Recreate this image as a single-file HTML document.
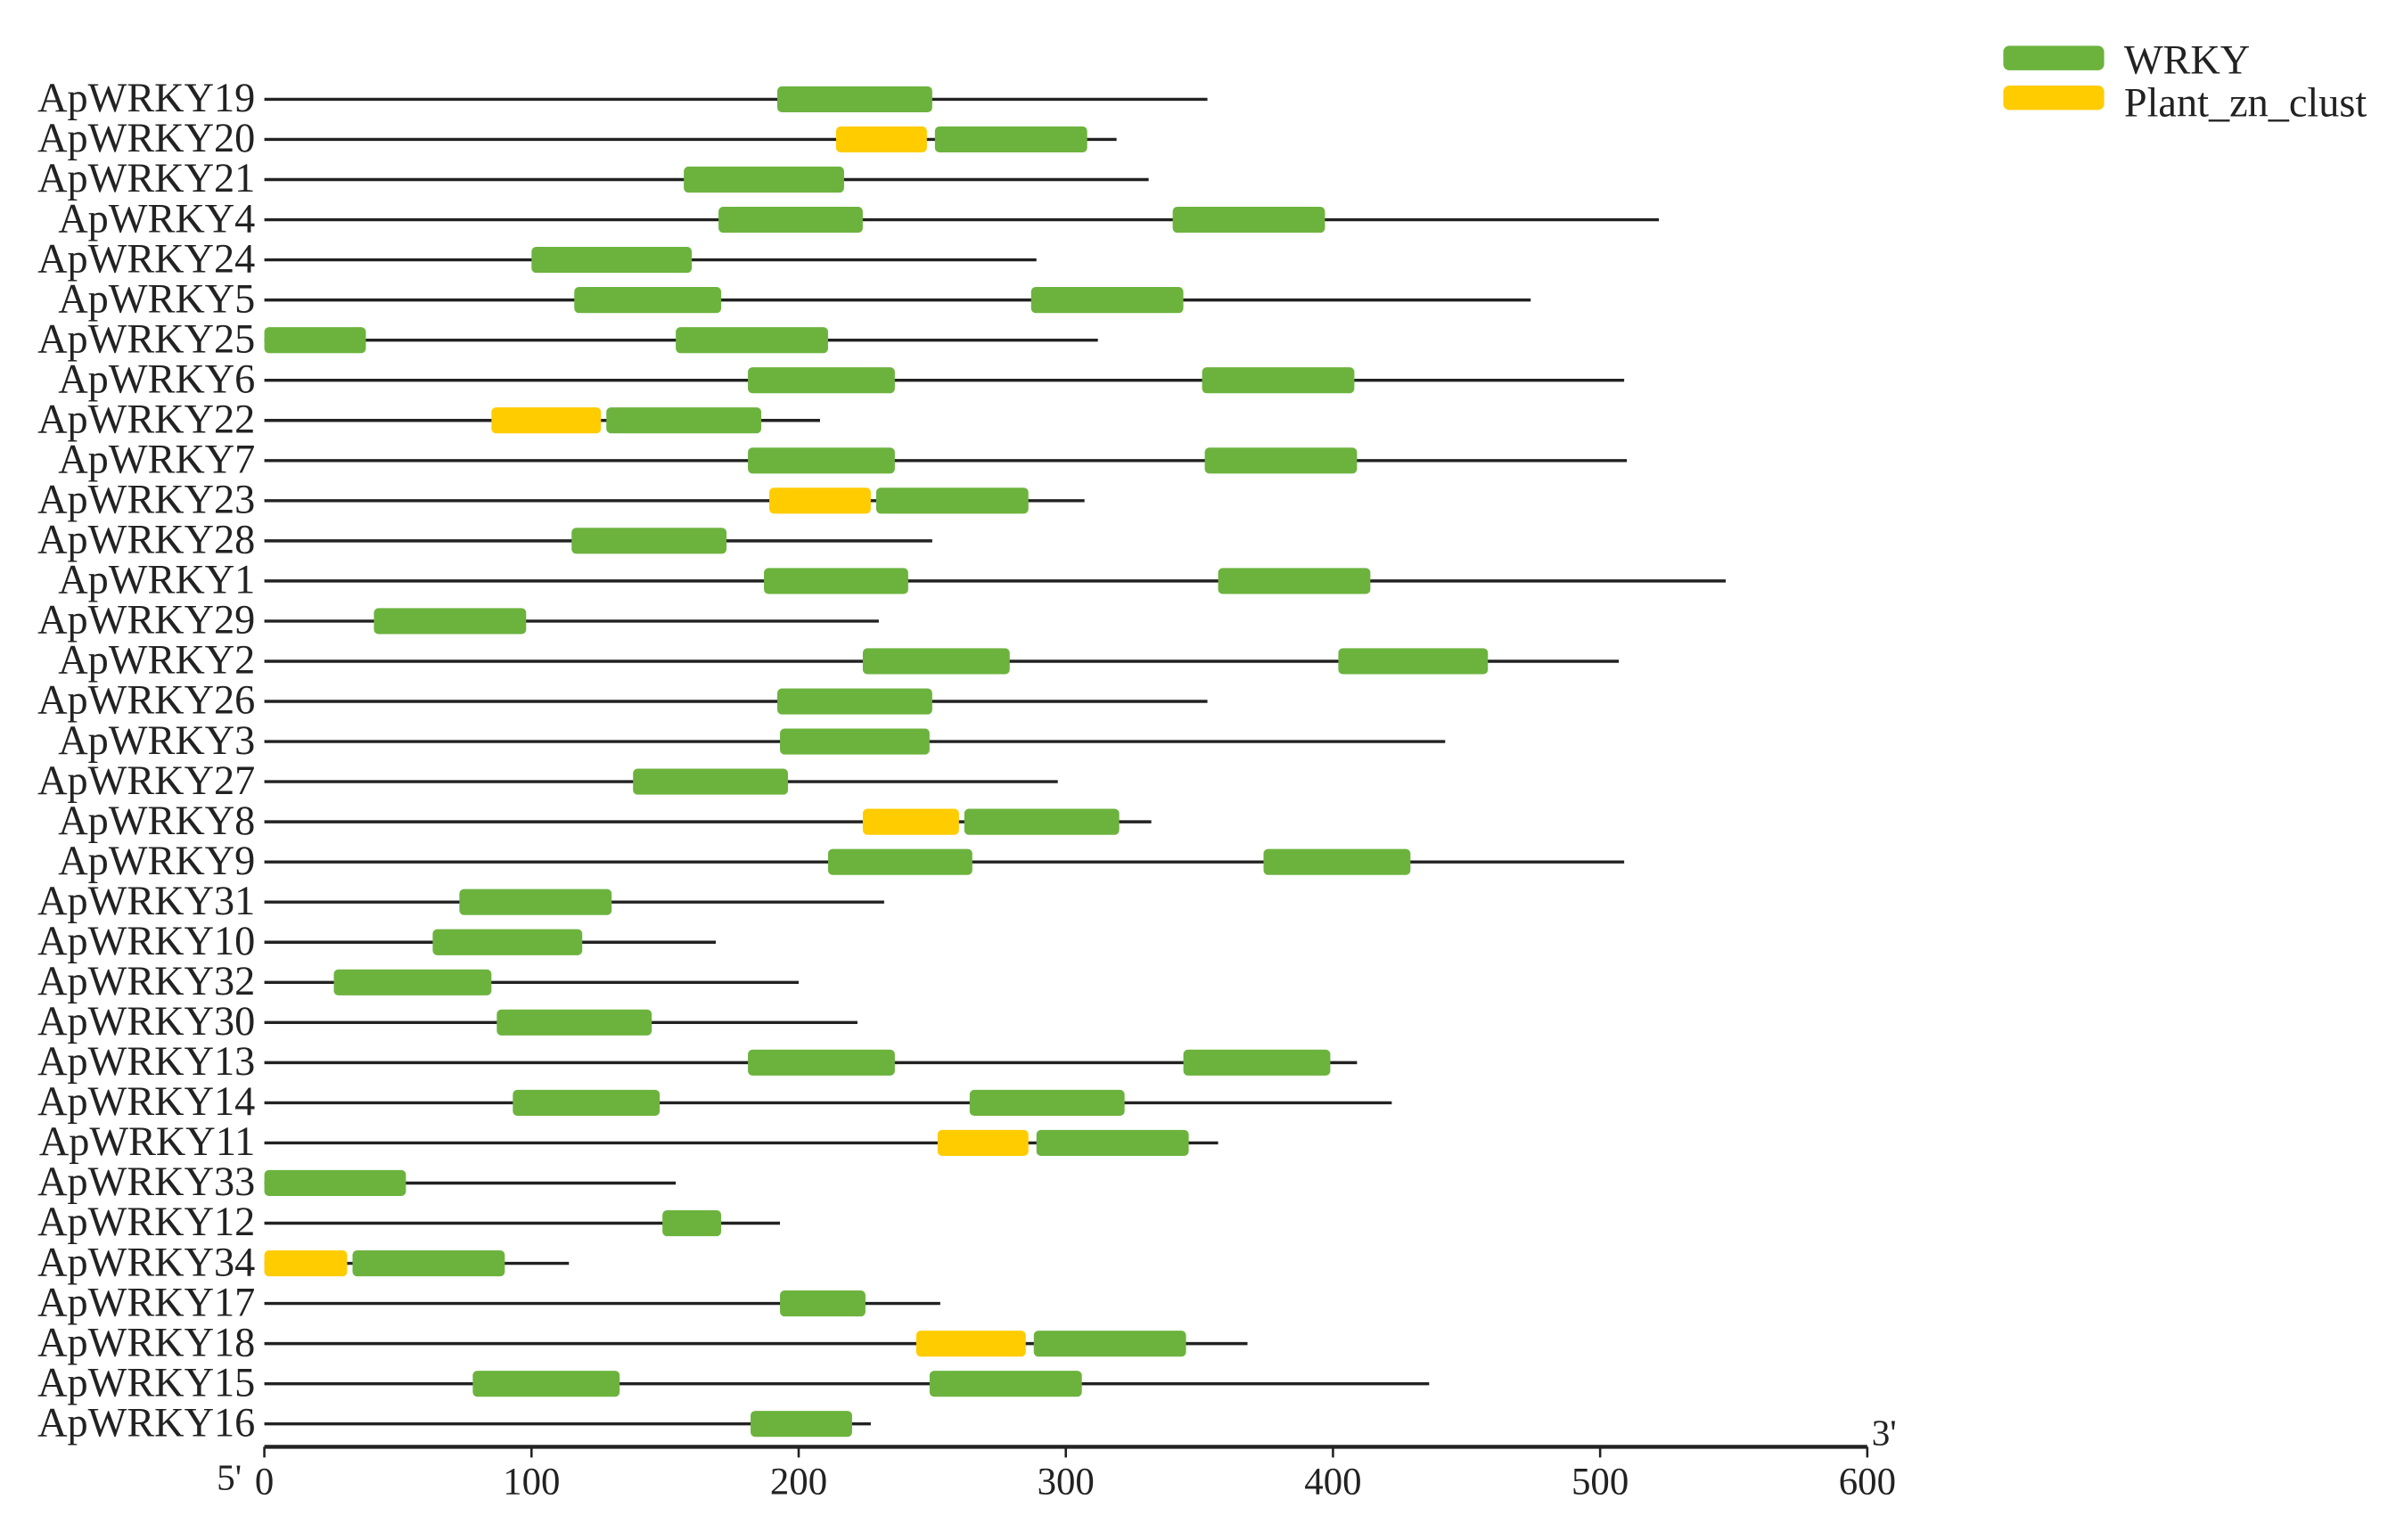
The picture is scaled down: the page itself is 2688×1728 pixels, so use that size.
<!DOCTYPE html>
<html><head><meta charset="utf-8"><style>
html,body{margin:0;padding:0;background:#fff;}
svg{display:block;}
text{font-family:"Liberation Serif",serif;fill:#222;}
</style></head><body>
<svg id="chart" width="2688" height="1728" viewBox="0 0 1568 1008" xmlns="http://www.w3.org/2000/svg">
<g id="legend">
<rect x="1311" y="30" width="66" height="16" rx="4" fill="#6cb33e"/>
<text x="1390" y="48" font-size="27">WRKY</text>
<rect x="1311" y="56" width="66" height="16" rx="4" fill="#ffcc00"/>
<text x="1390" y="76" font-size="27">Plant_zn_clust</text>
</g>
<g id="rows"></g>
<g id="axis"></g>
</svg>
<script>
const genes = ["ApWRKY19","ApWRKY20","ApWRKY21","ApWRKY4","ApWRKY24","ApWRKY5","ApWRKY25","ApWRKY6","ApWRKY22","ApWRKY7","ApWRKY23","ApWRKY28","ApWRKY1","ApWRKY29","ApWRKY2","ApWRKY26","ApWRKY3","ApWRKY27","ApWRKY8","ApWRKY9","ApWRKY31","ApWRKY10","ApWRKY32","ApWRKY30","ApWRKY13","ApWRKY14","ApWRKY11","ApWRKY33","ApWRKY12","ApWRKY34","ApWRKY17","ApWRKY18","ApWRKY15","ApWRKY16"];
const lengths = [353,319,331,522,289,474,312,509,208,510,307,250,547,230,507,353,442,297,332,509,232,169,200,222,409,422,357,154,193,114,253,368,436,227];
const wrkyDomains = [
 [[192,250]],[[251,308]],[[157,217]],[[170,224],[340,397]],[[100,160]],[[116,171],[287,344]],
 [[0,38],[154,211]],[[181,236],[351,408]],[[128,186]],[[181,236],[352,409]],[[229,286]],[[115,173]],
 [[187,241],[357,414]],[[41,98]],[[224,279],[402,458]],[[192,250]],[[193,249]],[[138,196]],
 [[262,320]],[[211,265],[374,429]],[[73,130]],[[63,119]],[[26,85]],[[87,145]],
 [[181,236],[344,399]],[[93,148],[264,322]],[[289,346]],[[0,53]],[[149,171]],[[33,90]],
 [[193,225]],[[288,345]],[[78,133],[249,306]],[[182,220]]];
const znDomains = [
 [],[[214,248]],[],[],[],[],[],[],[[85,126]],[],[[189,227]],[],[],[],[],[],[],[],
 [[224,260]],[],[],[],[],[],[],[],[[252,286]],[],[],[[0,31]],[],[[244,285]],[],[]];
const ticks = [0,100,200,300,400,500,600];

const NS="http://www.w3.org/2000/svg";
const x0=173, pxPerUnit=(1222-173)/600;
function xs(v){return x0+v*pxPerUnit;}
function ys(i){return 65+i*(932-65)/33;}
function mk(tag,attrs,parent){const e=document.createElementNS(NS,tag);for(const k in attrs)e.setAttribute(k,attrs[k]);parent.appendChild(e);return e;}
const rows=document.getElementById('rows');
genes.forEach((g,i)=>{
  const y=ys(i);
  const grp=mk('g',{},rows);
  
  
  const t=mk('text',{x:167,y:y+8,'font-size':27,'text-anchor':'end'},grp);
  t.textContent=g;
  
  
  const ln=mk('line',{x1:xs(0),x2:xs(lengths[i]),y1:y,y2:y,stroke:'#222','stroke-width':2},grp);
  
  
  wrkyDomains[i].forEach(d=>{
    const r=mk('rect',{x:xs(d[0]),y:y-8.5,width:xs(d[1])-xs(d[0]),height:17,rx:3,fill:'#6cb33e'},grp);
    
    
  });
  znDomains[i].forEach(d=>{
    const r=mk('rect',{x:xs(d[0]),y:y-8.5,width:xs(d[1])-xs(d[0]),height:17,rx:3,fill:'#ffcc00'},grp);
    
    
  });
});
const ax=document.getElementById('axis');
const ay=947;
const al=mk('line',{x1:xs(0),x2:xs(600),y1:ay,y2:ay,stroke:'#222','stroke-width':2.5},ax);


ticks.forEach(v=>{
  const tk=mk('line',{x1:xs(v),x2:xs(v),y1:ay,y2:ay+7,stroke:'#222','stroke-width':1.5},ax);
  
  
  const tl=mk('text',{x:xs(v),y:ay+31,'font-size':25,'text-anchor':'middle'},ax);
  tl.textContent=v;
  
  
});
const f5=mk('text',{x:150,y:ay+28,'font-size':24,'text-anchor':'middle'},ax);
f5.textContent="5'";


const f3=mk('text',{x:1233,y:ay-1,'font-size':24,'text-anchor':'middle'},ax);
f3.textContent="3'";


</script>
</body></html>
